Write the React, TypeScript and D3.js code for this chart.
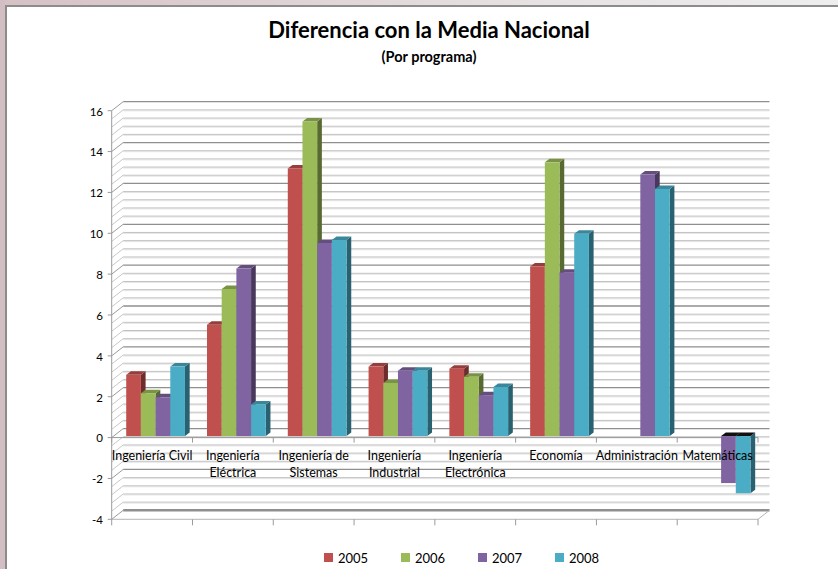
import React, { useEffect, useRef } from "react";
import * as d3 from "d3";

// Chart data
const categoryLabels = [
    ["Ingeniería Civil"],
    ["Ingeniería", "Eléctrica"],
    ["Ingeniería de", "Sistemas"],
    ["Ingeniería", "Industrial"],
    ["Ingeniería", "Electrónica"],
    ["Economía"],
    ["Administración"],
    ["Matemáticas"],
];
const years = ["2005", "2006", "2007", "2008"];
const values2005 = [3.0, 5.45, 13.1, 3.4, 3.3, 8.3, null, null];
const values2006 = [2.1, 7.2, 15.4, 2.6, 2.9, 13.4, null, null];
const values2007 = [1.9, 8.2, 9.45, 3.2, 2.0, 8.0, 12.8, -2.3];
const values2008 = [3.4, 1.55, 9.6, 3.2, 2.4, 9.9, 12.1, -2.8];
const seriesValues = [values2005, values2006, values2007, values2008];
const colors = ["#C0504D", "#9BBB59", "#8064A2", "#4BACC6"];

// Size of the picture
const width = 838;
const height = 569;

// Front plane of the plot
const plot = { left: 111.7, right: 758, top: 110.7, bottom: 519.3 };
// offset of the back wall and of the bars
const wall = { dx: 11.5, dy: -9 };
const barShift = { dx: 3.5, dy: -1.5 };
const barDepth = { dx: 4.7, dy: -3.5 };

const font = "Lato, 'Open Sans', sans-serif";

const drawChart = (node: SVGSVGElement) => {
    const svg = d3.select(node);
    svg.selectAll("*").remove();

    // background frame
    const defs = svg.append("defs");
    const grad = defs.append("linearGradient").attr("id", "topStrip");
    grad.append("stop").attr("offset", "0%").attr("stop-color", "#d6c1c5");
    grad.append("stop").attr("offset", "60%").attr("stop-color", "#e6e0e1");
    grad.append("stop").attr("offset", "100%").attr("stop-color", "#eeeeee");
    svg.append("rect").attr("width", width).attr("height", height).attr("fill", "#fff");
    svg.append("rect").attr("width", width).attr("height", 5).attr("fill", "url(#topStrip)");
    svg.append("rect").attr("width", 5).attr("height", height).attr("fill", "#d3bfc3");
    svg.append("line").attr("x1", 6).attr("x2", 6).attr("y1", 5).attr("y2", height)
        .attr("stroke", "#8c8c8c").attr("stroke-width", 2);
    svg.append("line").attr("x1", 5).attr("x2", width).attr("y1", 6).attr("y2", 6)
        .attr("stroke", "#8c8c8c").attr("stroke-width", 2);

    // scales
    const x = d3.scaleBand<number>()
        .domain(d3.range(categoryLabels.length))
        .range([plot.left, plot.right]);
    const xs = d3.scaleBand<string>()
        .domain(years)
        .range([0, x.bandwidth()])
        .paddingOuter(0.75);
    const y = d3.scaleLinear().domain([-4, 16]).range([plot.bottom, plot.top]);

    // gridlines: minor every 0.4, major every 2
    const minor = d3.range(0, 51).map(i => -4 + i * 0.4);
    const major = y.ticks(10);
    const grid = svg.append("g");
    minor.forEach(v => {
        const isMajor = major.some(m => Math.abs(m - v) < 1e-6);
        const yf = y(v);
        const yb = yf + wall.dy;
        if (!isMajor) {
            grid.append("line")
                .attr("x1", plot.left + wall.dx).attr("x2", plot.right + wall.dx)
                .attr("y1", yb + 1).attr("y2", yb + 1)
                .attr("stroke", "#e6e6e6");
        }
        grid.append("line")
            .attr("x1", plot.left + wall.dx).attr("x2", plot.right + wall.dx)
            .attr("y1", yb).attr("y2", yb)
            .attr("stroke", isMajor ? "#8f8f8f" : "#c2c2c2")
            .attr("stroke-width", v === -4 ? 2.5 : isMajor ? 1.3 : 1);
        grid.append("line")
            .attr("x1", plot.left).attr("x2", plot.left + wall.dx)
            .attr("y1", yf).attr("y2", yb)
            .attr("stroke", isMajor ? "#9a9a9a" : "#c8c8c8");
    });

    // front vertical axis and floor
    grid.append("line")
        .attr("x1", plot.left).attr("x2", plot.left)
        .attr("y1", plot.top).attr("y2", plot.bottom)
        .attr("stroke", "#9a9a9a");
    grid.append("line")
        .attr("x1", plot.left).attr("x2", plot.right)
        .attr("y1", plot.bottom).attr("y2", plot.bottom)
        .attr("stroke", "#b4b4b4");
    grid.append("line")
        .attr("x1", plot.right).attr("x2", plot.right + wall.dx)
        .attr("y1", plot.bottom).attr("y2", plot.bottom + wall.dy)
        .attr("stroke", "#b4b4b4");

    // category axis at zero
    grid.append("line")
        .attr("x1", plot.left).attr("x2", plot.right)
        .attr("y1", y(0)).attr("y2", y(0))
        .attr("stroke", "#9a9a9a");
    const bounds = d3.range(categoryLabels.length + 1).map(i => plot.left + i * x.step());
    bounds.forEach(bx => {
        grid.append("line").attr("x1", bx).attr("x2", bx)
            .attr("y1", y(0)).attr("y2", y(0) + 5).attr("stroke", "#9a9a9a");
        grid.append("line").attr("x1", bx).attr("x2", bx)
            .attr("y1", plot.bottom).attr("y2", plot.bottom + 6).attr("stroke", "#9a9a9a");
    });

    // y axis ticks and labels
    major.forEach(v => {
        grid.append("line")
            .attr("x1", plot.left - 4).attr("x2", plot.left)
            .attr("y1", y(v)).attr("y2", y(v))
            .attr("stroke", "#9a9a9a");
        svg.append("text")
            .attr("x", 103).attr("y", y(v) + 2)
            .attr("text-anchor", "end")
            .attr("dominant-baseline", "middle")
            .attr("font-family", font).attr("font-size", 11.5)
            .attr("fill", "#000")
            .text(v);
    });

    // bars
    const bars = svg.append("g");
    seriesValues.forEach((vals, si) => {
        const base = d3.color(colors[si])!;
        vals.forEach((v, ci) => {
            if (v === null || v === undefined) return;
            const x0 = x(ci)! + xs(years[si])! + barShift.dx;
            const x1 = x0 + xs.bandwidth();
            const y0 = y(0) + barShift.dy;
            const yv = y(v) + barShift.dy;
            const top = Math.min(y0, yv);
            const bottom = Math.max(y0, yv);
            // right side
            bars.append("path")
                .attr("d", `M${x1},${top}L${x1 + barDepth.dx},${top + barDepth.dy}L${x1 + barDepth.dx},${bottom + barDepth.dy}L${x1},${bottom}Z`)
                .attr("fill", base.darker(1.6).toString());
            // top face
            bars.append("path")
                .attr("d", `M${x0},${top}L${x0 + barDepth.dx},${top + barDepth.dy}L${x1 + barDepth.dx},${top + barDepth.dy}L${x1},${top}Z`)
                .attr("fill", v < 0 ? "#111" : base.darker(0.7).toString());
            // front face
            bars.append("rect")
                .attr("x", x0).attr("y", top)
                .attr("width", xs.bandwidth()).attr("height", bottom - top)
                .attr("fill", colors[si]);
        });
    });

    // category labels
    categoryLabels.forEach((lines, ci) => {
        const t = svg.append("text")
            .attr("text-anchor", "middle")
            .attr("font-family", font).attr("font-size", 12.5)
            .attr("fill", "#000");
        lines.forEach((line, li) => {
            t.append("tspan")
                .attr("x", x(ci)! + x.bandwidth() / 2)
                .attr("y", 460 + li * 16.5)
                .text(line);
        });
    });

    // title
    svg.append("text")
        .attr("x", 429).attr("y", 38)
        .attr("text-anchor", "middle")
        .attr("font-family", font).attr("font-size", 22).attr("font-weight", "bold")
        .attr("fill", "#000")
        .text("Diferencia con la Media Nacional");
    svg.append("text")
        .attr("x", 429).attr("y", 62)
        .attr("text-anchor", "middle")
        .attr("font-family", font).attr("font-size", 14.5).attr("font-weight", "bold")
        .attr("fill", "#000")
        .text("(Por programa)");

    // legend
    const lx = d3.scalePoint<string>().domain(years).range([324, 555]);
    const legend = svg.append("g");
    years.forEach((yr, i) => {
        legend.append("rect")
            .attr("x", lx(yr)!).attr("y", 553)
            .attr("width", 9).attr("height", 9)
            .attr("fill", colors[i]);
        legend.append("text")
            .attr("x", lx(yr)! + 14).attr("y", 562.5)
            .attr("font-family", font).attr("font-size", 13)
            .attr("fill", "#000")
            .text(yr);
    });
};

export default function App() {
    const ref = useRef<SVGSVGElement>(null);

    useEffect(() => {
        if (ref.current) drawChart(ref.current);
    }, []);

    return (
        <svg
            ref={ref}
            width={width}
            height={height}
            style={{ position: "absolute", left: 0, top: 0, display: "block" }}
        />
    );
}
